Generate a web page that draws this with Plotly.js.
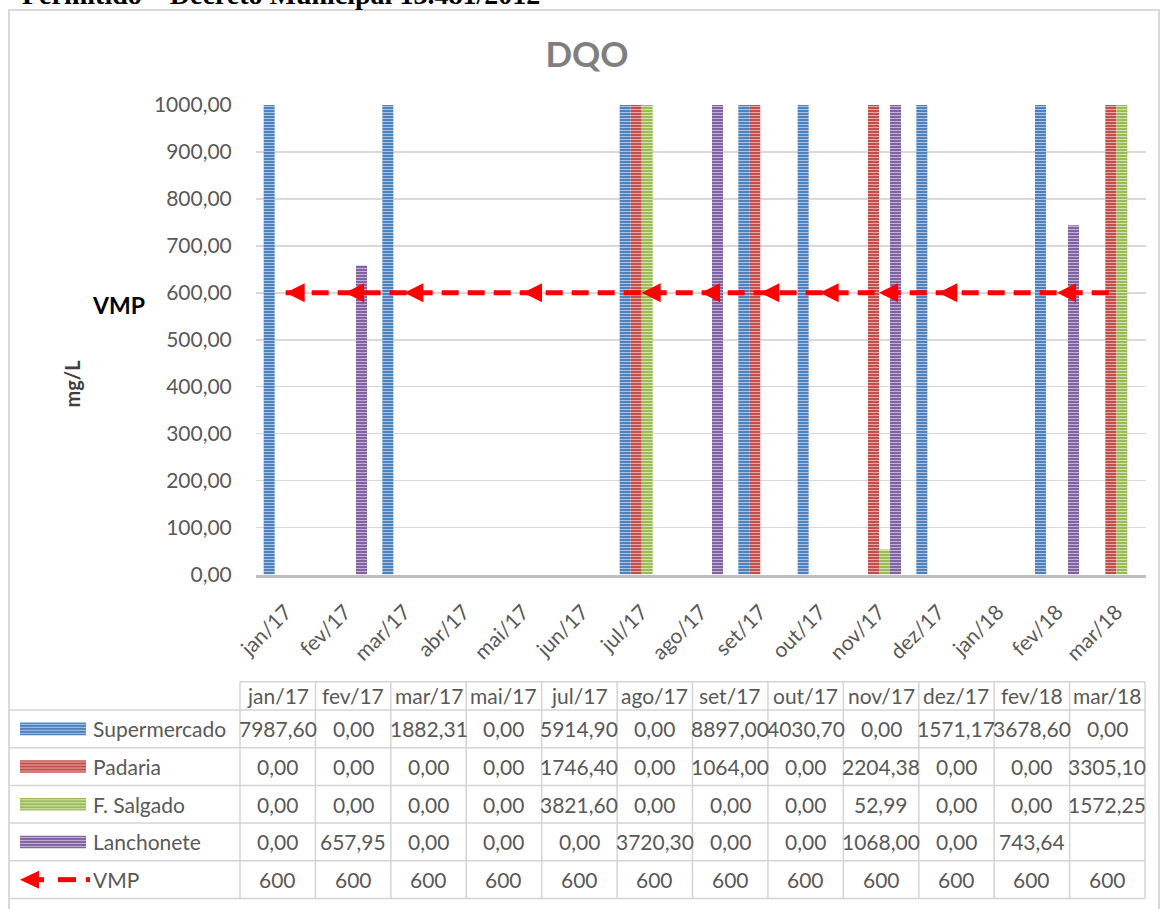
<!DOCTYPE html>
<html>
<head>
<meta charset="utf-8">
<script src="https://cdn.plot.ly/plotly-3.0.1.min.js"></script>
<style>html,body{margin:0;padding:0;background:#fff;}#chart{width:1167px;height:909px;}</style>
</head>
<body>
<div id="chart"></div>
<script>
// ---------- DATA ----------
const axisMonths = ['jan/17','fev/17','mar/17','abr/17','mai/17','jun/17','jul/17','ago/17','set/17','out/17','nov/17','dez/17','jan/18','fev/18','mar/18'];
const tableMonths = ['jan/17','fev/17','mar/17','mai/17','jul/17','ago/17','set/17','out/17','nov/17','dez/17','fev/18','mar/18'];
const seriesNames = ['Supermercado','Padaria','F. Salgado','Lanchonete'];
const supermercado = [7987.60, 0, 1882.31, 0, 5914.90, 0, 8897.00, 4030.70, 0, 1571.17, 3678.60, 0];
const padaria      = [0, 0, 0, 0, 1746.40, 0, 1064.00, 0, 2204.38, 0, 0, 3305.10];
const fSalgado     = [0, 0, 0, 0, 3821.60, 0, 0, 0, 52.99, 0, 0, 1572.25];
const lanchonete   = [0, 657.95, 0, 0, 0, 3720.30, 0, 0, 1068.00, 0, 743.64, null];
const vmpName = 'VMP';
const vmp = [600, 600, 600, 600, 600, 600, 600, 600, 600, 600, 600, 600];
const yTickVals = [0,100,200,300,400,500,600,700,800,900,1000];

// ---------- STYLE ----------
const W = 1167, H = 909;
const fx = x => x / W, fy = y => 1 - y / H;
const FONT = 'Lato, "Open Sans", sans-serif';
const GRAY = '#595959';
const bgColors = ['#4F81BD', '#C0504D', '#9BBB59', '#8064A2'];
const fgColors = ['#A9C3E6', '#E8A6A4', '#D2E3AC', '#C2B1D6'];
const seriesValues = [supermercado, padaria, fSalgado, lanchonete];

const traces = [];
seriesValues.forEach((vals, i) => {
  traces.push({
    type: 'bar', name: seriesNames[i], x: tableMonths, y: vals,
    marker: {color: bgColors[i], line: {width: 0},
             pattern: {shape: '-', fgcolor: fgColors[i], bgcolor: bgColors[i], size: 3, solidity: 0.35}},
    hoverinfo: 'x+y+name'
  });
});
traces.push({
  type: 'scatter', mode: 'lines', name: vmpName, x: tableMonths, y: vmp,
  line: {color: '#FF0000', width: 5, dash: '17px,9px'}, hoverinfo: 'skip'
});
traces.push({
  type: 'scatter', mode: 'markers', name: vmpName + ' arrows', x: tableMonths.slice(0, -1), y: vmp.slice(0, -1),
  marker: {symbol: 'arrow-left', size: 19, color: '#FF0000', line: {width: 0}}, hoverinfo: 'skip'
});

// ---------- TABLE (annotations + shapes) ----------
const colX0 = 240, colW = 75.42, headTop = 681.7, rowTop0 = 710, rowH = 37.7;
const nCols = tableMonths.length, nRows = seriesNames.length + 1;
const tableRight = colX0 + colW * nCols;
const annotations = [];
const shapes = [];
const fmt = v => (v === null || v === undefined) ? '' : v.toFixed(2).replace('.', ',');

// chart border
shapes.push({type: 'rect', xref: 'paper', yref: 'paper', x0: fx(9), x1: fx(1159), y0: fy(10), y1: fy(915),
  line: {color: '#D9D9D9', width: 2}, fillcolor: 'rgba(0,0,0,0)', layer: 'below'});

// header
tableMonths.forEach((m, i) => {
  annotations.push({xref: 'paper', yref: 'paper', x: fx(colX0 + colW * (i + 0.5)), y: fy((headTop + rowTop0) / 2),
    text: m, showarrow: false, xanchor: 'center', yanchor: 'middle', font: {family: FONT, size: 21, color: GRAY}});
});
// rows
const rowLabels = seriesNames.concat([vmpName]);
const rowValues = seriesValues.map(a => a.map(fmt)).concat([vmp.map(v => String(v))]);
rowLabels.forEach((lab, r) => {
  const cy = rowTop0 + rowH * (r + 0.5);
  annotations.push({xref: 'paper', yref: 'paper', x: fx(91), y: fy(cy), text: lab, showarrow: false,
    xanchor: 'left', yanchor: 'middle', font: {family: FONT, size: 21, color: GRAY}});
  rowValues[r].forEach((t, i) => {
    annotations.push({xref: 'paper', yref: 'paper', x: fx(colX0 + colW * (i + 0.5)), y: fy(cy), text: t, showarrow: false,
      xanchor: 'center', yanchor: 'middle', font: {family: FONT, size: 21, color: GRAY}});
  });
  if (r < seriesNames.length) {
    shapes.push({type: 'rect', xref: 'paper', yref: 'paper', x0: fx(20), x1: fx(86), y0: fy(cy - 6.3), y1: fy(cy + 6.3),
      fillcolor: bgColors[r], line: {width: 0}});
    [-4.5, -1.5, 1.5, 4.5].forEach(d => {
      shapes.push({type: 'line', xref: 'paper', yref: 'paper', x0: fx(20), x1: fx(86), y0: fy(cy + d), y1: fy(cy + d),
        line: {color: fgColors[r], width: 1}});
    });
  } else {
    shapes.push({type: 'path', xref: 'paper', yref: 'paper', fillcolor: '#FF0000', line: {width: 0},
      path: 'M' + fx(20) + ',' + fy(cy) + ' L' + fx(39) + ',' + fy(cy - 9) + ' L' + fx(39) + ',' + fy(cy + 9) + ' Z'});
    [[38, 44], [58, 76], [86, 90]].forEach(s => {
      shapes.push({type: 'line', xref: 'paper', yref: 'paper', x0: fx(s[0]), x1: fx(s[1]), y0: fy(cy), y1: fy(cy),
        line: {color: '#FF0000', width: 5}});
    });
  }
});
// grid lines
shapes.push({type: 'line', xref: 'paper', yref: 'paper', x0: fx(colX0), x1: fx(tableRight), y0: fy(headTop), y1: fy(headTop),
  line: {color: '#D4D4D4', width: 1.5}});
for (let r = 0; r <= nRows; r++) {
  const y = rowTop0 + rowH * r;
  shapes.push({type: 'line', xref: 'paper', yref: 'paper', x0: fx(10), x1: fx(tableRight), y0: fy(y), y1: fy(y),
    line: {color: '#D4D4D4', width: 1.5}});
}
for (let c = 0; c <= nCols; c++) {
  const x = colX0 + colW * c;
  shapes.push({type: 'line', xref: 'paper', yref: 'paper', x0: fx(x), x1: fx(x), y0: fy(headTop), y1: fy(rowTop0 + rowH * nRows),
    line: {color: '#D4D4D4', width: 1.5}});
}

// other texts
annotations.push({xref: 'paper', yref: 'paper', x: fx(20), y: fy(12), xanchor: 'left', yanchor: 'bottom', showarrow: false,
  text: '<b>Permitido – Decreto Municipal 13.481/2012</b>', font: {family: '"Liberation Serif", serif', size: 28, color: '#000'}});
annotations.push({xref: 'paper', yref: 'paper', x: fx(118), y: fy(305), xanchor: 'center', yanchor: 'middle', showarrow: false,
  text: '<b>VMP</b>', font: {family: FONT, size: 23, color: '#000'}});
annotations.push({xref: 'paper', yref: 'paper', x: fx(71), y: fy(383.5), xanchor: 'center', yanchor: 'middle', showarrow: false,
  textangle: -90, text: '<b>mg/L</b>', font: {family: FONT, size: 20, color: '#404040'}});

const layout = {
  width: W, height: H,
  margin: {l: 0, r: 0, t: 0, b: 0},
  paper_bgcolor: '#fff', plot_bgcolor: '#fff',
  showlegend: false,
  separators: ',.',
  barmode: 'group', bargap: 0.258, bargroupgap: 0,
  title: {text: '<b>DQO</b>', x: fx(587), y: fy(55), xref: 'paper', yref: 'paper', xanchor: 'center', yanchor: 'middle',
    font: {family: FONT, size: 35, color: '#7F7F7F'}},
  xaxis: {
    domain: [fx(256), fx(1146)], type: 'category', categoryorder: 'array', categoryarray: axisMonths,
    range: [-0.5, axisMonths.length - 0.5],
    tickangle: -45, ticks: 'outside', ticklen: 14, tickcolor: 'rgba(0,0,0,0)',
    tickfont: {family: FONT, size: 21, color: GRAY},
    showline: true, linecolor: '#BFBFBF', linewidth: 3, showgrid: false, zeroline: false
  },
  yaxis: {
    domain: [fy(574.5), fy(105)], range: [0, 1000], tickvals: yTickVals, tickformat: '.2f',
    ticks: 'outside', ticklen: 19, tickcolor: 'rgba(0,0,0,0)',
    tickfont: {family: FONT, size: 21, color: GRAY},
    showgrid: true, gridcolor: '#D9D9D9', gridwidth: 1.5, zeroline: false, showline: false
  },
  annotations: annotations,
  shapes: shapes
};

Plotly.newPlot('chart', traces, layout, {displayModeBar: false, staticPlot: true});
</script>
</body>
</html>
